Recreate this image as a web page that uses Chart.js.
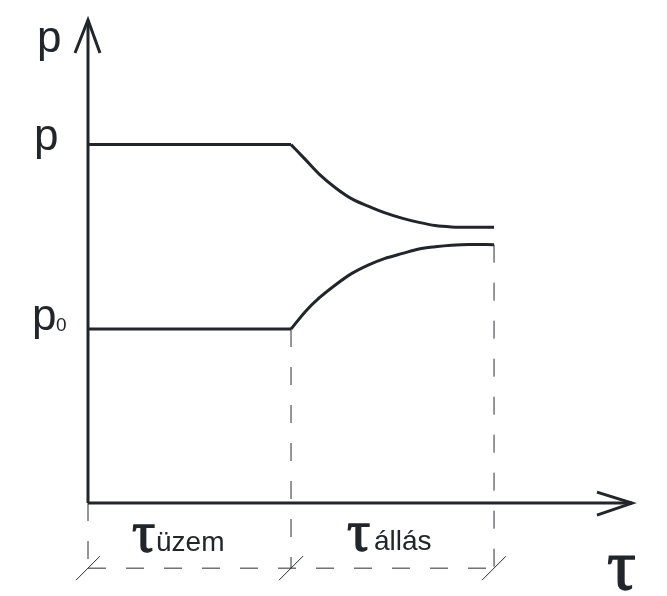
<!DOCTYPE html>
<html><head><meta charset="utf-8">
<script src="https://cdn.jsdelivr.net/npm/chart.js@4"></script>
<style>html,body{margin:0;padding:0;background:#fff}canvas{display:block}</style>
</head><body>
<canvas id="c" width="667" height="596"></canvas>
<script>
// Time marks: start, end of operation (τ üzem), end of standstill (τ állás)
const tauMarks = [0, 1, 2];
// Pressure levels during operation
const pHigh = 2.06;
const pLow = 1.0;
// Standstill: the two pressures approach each other
const tauStand = [1, 1.07, 1.14, 1.22, 1.30, 1.38, 1.46, 1.55, 1.63, 1.71, 1.79, 1.88, 2];
const pUpper = [2.06, 1.975, 1.889, 1.811, 1.748, 1.706, 1.669, 1.636, 1.613, 1.595, 1.587, 1.585, 1.585];
const pLower = [1.0, 1.10, 1.18, 1.255, 1.32, 1.368, 1.405, 1.435, 1.46, 1.473, 1.482, 1.486, 1.485];
// Texts
const phaseNames = ['üzem', 'állás'];
const levelNames = ['p', 'p'];
const levelSubs = ['', '0'];
const axisNames = { x: 'τ', y: 'p' };

// Axis extents and dimension line level (data units)
const xAxisEnd = 2.68, yAxisEnd = 2.776, dimLevel = -0.374;
const ink = '#22252a';

const pts = (xs, ys) => xs.map((v, i) => ({ x: v, y: ys[i] }));
const solid = (data, extra) => Object.assign({
  data, borderColor: ink, borderWidth: 3, pointRadius: 0, tension: 0,
  borderCapStyle: 'butt', borderJoinStyle: 'miter', fill: false
}, extra || {});
const thin = (data, dashed) => ({
  data, borderColor: '#2a2d33', borderWidth: 1, pointRadius: 0, tension: 0,
  borderDash: dashed ? [18, 20] : [], fill: false
});

const datasets = [
  // axes with open arrow heads
  solid([{ x: 0, y: 0 }, { x: 0, y: yAxisEnd }]),
  solid([{ x: -0.064, y: yAxisEnd - 0.19 }, { x: 0, y: yAxisEnd }, { x: 0.059, y: yAxisEnd - 0.19 }]),
  solid([{ x: 0, y: 0 }, { x: xAxisEnd, y: 0 }]),
  solid([{ x: xAxisEnd - 0.173, y: 0.063 }, { x: xAxisEnd, y: 0 }, { x: xAxisEnd - 0.173, y: -0.069 }]),
  // operation: constant pressures
  solid([{ x: tauMarks[0], y: pHigh }, { x: tauMarks[1], y: pHigh }]),
  solid([{ x: tauMarks[0], y: pLow }, { x: tauMarks[1], y: pLow }]),
  // standstill curves
  solid(pts(tauStand, pUpper), { cubicInterpolationMode: 'monotone' }),
  solid(pts(tauStand, pLower), { cubicInterpolationMode: 'monotone' }),
  // dimension line for the two periods
  thin([{ x: tauMarks[0], y: 0 }, { x: tauMarks[0], y: dimLevel }], true),
  thin([{ x: tauMarks[1], y: pLow }, { x: tauMarks[1], y: dimLevel }], true),
  thin([{ x: tauMarks[2], y: pLower[pLower.length - 1] }, { x: tauMarks[2], y: dimLevel }], true),
  thin([{ x: tauMarks[0], y: dimLevel }, { x: tauMarks[2], y: dimLevel }], true),
  ...tauMarks.map(t => thin([{ x: t - 0.059, y: dimLevel - 0.069 }, { x: t + 0.059, y: dimLevel + 0.069 }], false))
];

// Greek tau drawn with a light outline so the stroke looks heavier
function drawTau(ctx, px, py, size) {
  ctx.font = size + 'px "Liberation Serif", "DejaVu Serif", serif';
  ctx.lineWidth = 1.3;
  ctx.strokeStyle = ink;
  ctx.fillText('τ', px, py);
  ctx.strokeText('τ', px, py);
}

const labelPlugin = {
  id: 'diagramLabels',
  afterDatasetsDraw(chart) {
    const { ctx, scales: { x, y } } = chart;
    const X = v => x.getPixelForValue(v), Y = v => y.getPixelForValue(v);
    ctx.save();
    ctx.fillStyle = ink;
    ctx.textAlign = 'left';
    ctx.textBaseline = 'alphabetic';
    // axis name p
    ctx.font = '44px "Liberation Sans", Arial, sans-serif';
    ctx.fillText(axisNames.y, X(0) - 51, Y(yAxisEnd) + 32);
    // level names p and p0
    ctx.fillText(levelNames[0], X(0) - 54, Y(pHigh) + 5);
    ctx.fillText(levelNames[1], X(0) - 56, Y(pLow) + 1);
    ctx.font = '19px "Liberation Sans", Arial, sans-serif';
    ctx.fillText(levelSubs[1], X(0) - 32, Y(pLow) + 2);
    // period names
    const nameFont = '28px "Liberation Sans", Arial, sans-serif';
    const base = Y(dimLevel) - 17;
    drawTau(ctx, X(tauMarks[0]) + 44, base, 58);
    drawTau(ctx, X(tauMarks[1]) + 56, base - 1, 58);
    ctx.font = nameFont;
    ctx.fillText(phaseNames[0], X(tauMarks[0]) + 68, base);
    ctx.fillText(phaseNames[1], X(tauMarks[1]) + 83, base - 1);
    // axis name τ
    drawTau(ctx, X(xAxisEnd) - 25, Y(dimLevel) + 21, 72);
    ctx.restore();
  }
};

new Chart(document.getElementById('c'), {
  type: 'line',
  data: { datasets },
  options: {
    responsive: false,
    animation: false,
    devicePixelRatio: 1,
    layout: { padding: 0 },
    plugins: { legend: { display: false }, tooltip: { enabled: false } },
    scales: {
      x: { type: 'linear', display: false, min: -0.4335, max: 2.852 },
      y: { type: 'linear', display: false, min: -0.534, max: 2.891 }
    }
  },
  plugins: [labelPlugin]
});
</script>
</body></html>
